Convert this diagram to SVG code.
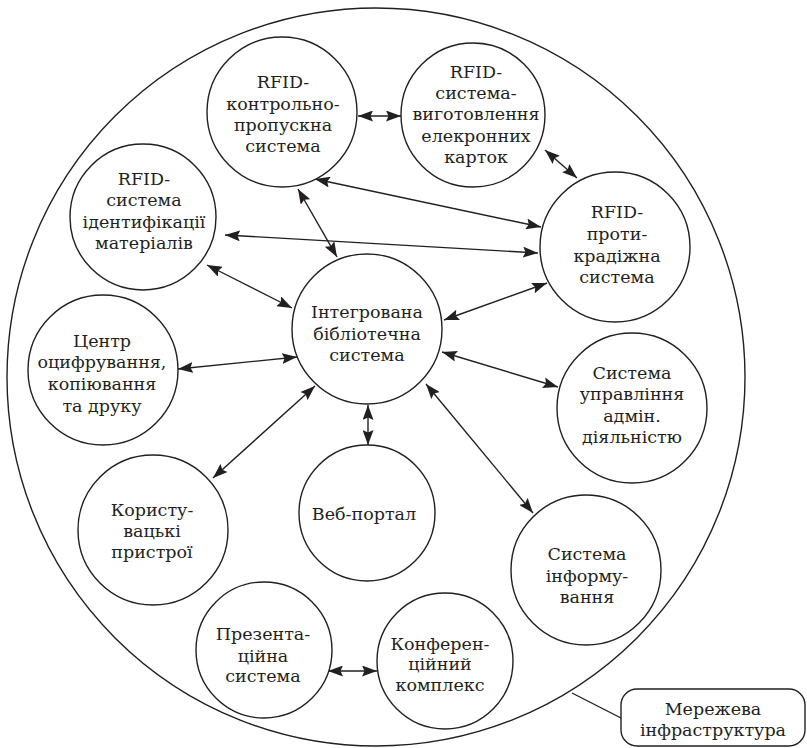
<svg xmlns="http://www.w3.org/2000/svg" width="807" height="748" viewBox="0 0 807 748">
<style>
.n{fill:#fff;stroke:#231f20;stroke-width:1.4}
.t{font-family:"DejaVu Serif","Liberation Serif",serif;font-size:17.5px;fill:#231f20;text-anchor:middle}
.c{stroke:#231f20;stroke-width:1.4;fill:none;marker-start:url(#ah);marker-end:url(#ah)}
</style>
<defs>
<marker id="ah" markerUnits="userSpaceOnUse" viewBox="0 0 15 11" refX="15" refY="5.5" markerWidth="15" markerHeight="11" orient="auto-start-reverse">
<path d="M0,0 L15,5.5 L0,11 L2.5,5.5 z" fill="#231f20"/>
</marker>
</defs>
<rect width="807" height="748" fill="#fff"/>
<g id="outer">
<circle cx="376" cy="377" r="369" fill="none" stroke="#231f20" stroke-width="1.4"/>
</g>
<g id="connectors">
<line class="c" x1="358" y1="116" x2="401" y2="116"/>
<line class="c" x1="545" y1="150" x2="577" y2="178"/>
<line class="c" x1="315" y1="179" x2="541" y2="227"/>
<line class="c" x1="225" y1="235" x2="538" y2="253"/>
<line class="c" x1="298" y1="189" x2="337" y2="257"/>
<line class="c" x1="207" y1="265" x2="292" y2="308"/>
<line class="c" x1="444" y1="320" x2="547" y2="283"/>
<line class="c" x1="178" y1="369" x2="297" y2="357"/>
<line class="c" x1="442" y1="352" x2="558" y2="387"/>
<line class="c" x1="315" y1="386" x2="213" y2="478"/>
<line class="c" x1="368" y1="405" x2="368" y2="445"/>
<line class="c" x1="426" y1="384" x2="533" y2="513"/>
<line class="c" x1="328" y1="671" x2="377" y2="671"/>
<line x1="572" y1="693" x2="621" y2="718" stroke="#231f20" stroke-width="1.4"/>
</g>
<g id="n1"><circle class="n" cx="282" cy="112" r="75"/>
<text class="t"><tspan x="283" y="88">RFID-</tspan><tspan x="283" y="110">контрольно-</tspan><tspan x="283" y="131">пропускна</tspan><tspan x="283" y="152">система</tspan></text></g>
<g id="n2"><circle class="n" cx="473" cy="115" r="72"/>
<text class="t"><tspan x="476" y="78">RFID-</tspan><tspan x="476" y="99">система-</tspan><tspan x="476" y="120">виготовлення</tspan><tspan x="476" y="142">елекронних</tspan><tspan x="476" y="163">карток</tspan></text></g>
<g id="n3"><circle class="n" cx="143" cy="217" r="73"/>
<text class="t"><tspan x="144" y="185">RFID-</tspan><tspan x="144" y="206">система</tspan><tspan x="144" y="228">ідентифікації</tspan><tspan x="144" y="249">матеріалів</tspan></text></g>
<g id="n4"><circle class="n" cx="615" cy="247" r="75"/>
<text class="t"><tspan x="617" y="218">RFID-</tspan><tspan x="617" y="240">проти-</tspan><tspan x="617" y="262">крадіжна</tspan><tspan x="617" y="283">система</tspan></text></g>
<g id="n5"><circle class="n" cx="367" cy="329" r="75"/>
<text class="t"><tspan x="367" y="318">Інтегрована</tspan><tspan x="367" y="340">бібліотечна</tspan><tspan x="367" y="361">система</tspan></text></g>
<g id="n6"><circle class="n" cx="103" cy="370" r="75"/>
<text class="t"><tspan x="102" y="347">Центр</tspan><tspan x="102" y="368">оцифрування,</tspan><tspan x="102" y="390">копіювання</tspan><tspan x="102" y="412">та друку</tspan></text></g>
<g id="n7"><circle class="n" cx="632" cy="408" r="75"/>
<text class="t"><tspan x="632" y="379">Система</tspan><tspan x="632" y="400">управління</tspan><tspan x="632" y="422">адмін.</tspan><tspan x="632" y="443">діяльністю</tspan></text></g>
<g id="n8"><circle class="n" cx="153" cy="530" r="75"/>
<text class="t"><tspan x="152" y="516">Користу-</tspan><tspan x="152" y="537">вацькі</tspan><tspan x="152" y="558">пристрої</tspan></text></g>
<g id="n9"><circle class="n" cx="367" cy="513" r="68"/>
<text class="t" x="364" y="520">Веб-портал</text></g>
<g id="n10"><circle class="n" cx="586" cy="570" r="75"/>
<text class="t"><tspan x="587" y="560">Система</tspan><tspan x="587" y="582">інформу-</tspan><tspan x="587" y="603">вання</tspan></text></g>
<g id="n11"><circle class="n" cx="264" cy="650" r="68"/>
<text class="t"><tspan x="263" y="640">Презента-</tspan><tspan x="263" y="662">ційна</tspan><tspan x="263" y="682">система</tspan></text></g>
<g id="n12"><circle class="n" cx="445" cy="661" r="68"/>
<text class="t"><tspan x="440" y="650">Конферен-</tspan><tspan x="440" y="670">ційний</tspan><tspan x="440" y="691">комплекс</tspan></text></g>
<g id="label"><rect class="n" x="621" y="689" width="184" height="57" rx="16"/>
<text class="t"><tspan x="713" y="715">Мережева</tspan><tspan x="713" y="736">інфраструктура</tspan></text></g>
</svg>
